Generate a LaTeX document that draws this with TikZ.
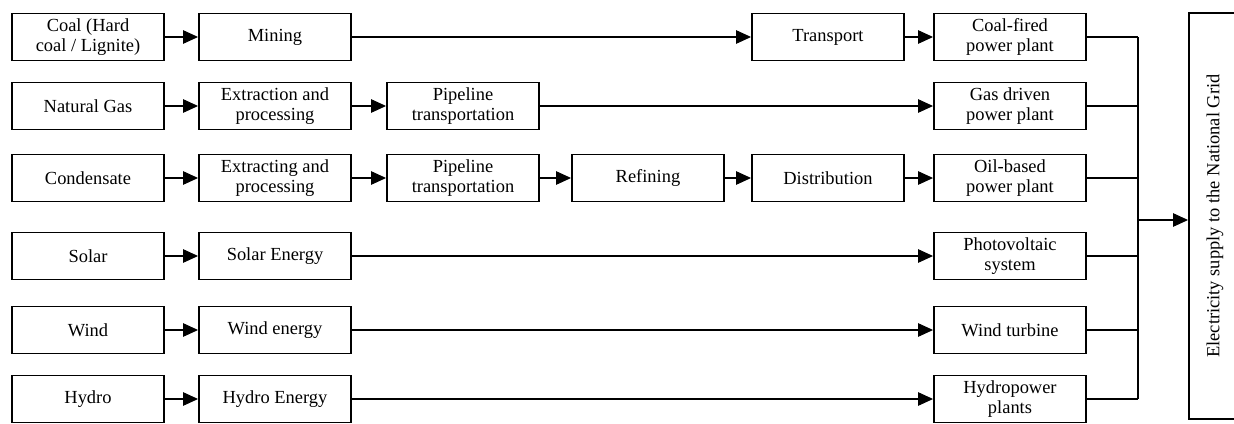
\documentclass[tikz,border=0pt]{standalone}
\usepackage{fontspec}
\setmainfont{Liberation Serif}
\usetikzlibrary{arrows.meta, positioning, calc}

\begin{document}
\begin{tikzpicture}[
  x=0.02cm, y=-0.02cm,
  box/.style={rectangle,draw,line width=1.1pt,minimum width=3.04cm,minimum height=0.94cm,
    inner sep=1pt,align=center,font=\fontsize{10.5}{11.4}\selectfont},
  flow/.style={-{Triangle[length=0.3cm,width=0.27cm]},line width=0.6pt},
  link/.style={line width=0.6pt}
]
  \useasboundingbox (0,0) rectangle (1234,423);

  % Nodes
  \node[box] (coal) at (88,37) {Coal (Hard\\coal / Lignite)};
  \node[box] (mining) at (275,37) {Mining};
  \node[box] (transport) at (828,37) {Transport};
  \node[box] (coalpp) at (1010,37) {Coal-fired\\power plant};

  \node[box] (gas) at (88,106) {Natural Gas};
  \node[box] (gasext) at (275,106) {Extraction and\\processing};
  \node[box] (gaspipe) at (463,106) {Pipeline\\transportation};
  \node[box] (gaspp) at (1010,106) {Gas driven\\power plant};

  \node[box] (cond) at (88,178) {Condensate};
  \node[box] (condext) at (275,178) {Extracting and\\processing};
  \node[box] (condpipe) at (463,178) {Pipeline\\transportation};
  \node[box] (refine) at (648,178) {Refining};
  \node[box] (dist) at (828,178) {Distribution};
  \node[box] (oilpp) at (1010,178) {Oil-based\\power plant};

  \node[box] (solar) at (88,256) {Solar};
  \node[box] (solaren) at (275,256) {Solar Energy};
  \node[box] (pv) at (1010,256) {Photovoltaic\\system};

  \node[box] (wind) at (88,330) {Wind};
  \node[box] (winden) at (275,330) {Wind energy};
  \node[box] (turbine) at (1010,330) {Wind turbine};

  \node[box] (hydro) at (88,399) {Hydro};
  \node[box] (hydroen) at (275,399) {Hydro Energy};
  \node[box] (hydropp) at (1010,399) {Hydropower\\plants};

  \node[box, rotate=90, minimum width=8.12cm, minimum height=1.04cm] (grid) at (1215,216)
    {Electricity supply to the National Grid};

  \coordinate (bus) at (1138,0);
  \coordinate (join) at (1138,220);

  % Paths
  \draw[flow] (coal) -- (mining);
  \draw[flow] (mining) -- (transport);
  \draw[flow] (transport) -- (coalpp);

  \draw[flow] (gas) -- (gasext);
  \draw[flow] (gasext) -- (gaspipe);
  \draw[flow] (gaspipe) -- (gaspp);

  \draw[flow] (cond) -- (condext);
  \draw[flow] (condext) -- (condpipe);
  \draw[flow] (condpipe) -- (refine);
  \draw[flow] (refine) -- (dist);
  \draw[flow] (dist) -- (oilpp);

  \draw[flow] (solar) -- (solaren);
  \draw[flow] (solaren) -- (pv);
  \draw[flow] (wind) -- (winden);
  \draw[flow] (winden) -- (turbine);
  \draw[flow] (hydro) -- (hydroen);
  \draw[flow] (hydroen) -- (hydropp);

  % Collecting bus to the grid
  \draw[link] (coalpp -| bus) -- (hydropp -| bus);
  \draw[link] (coalpp) -- (coalpp -| bus);
  \draw[link] (gaspp) -- (gaspp -| bus);
  \draw[link] (oilpp) -- (oilpp -| bus);
  \draw[link] (pv) -- (pv -| bus);
  \draw[link] (turbine) -- (turbine -| bus);
  \draw[link] (hydropp) -- (hydropp -| bus);
  \draw[flow] (join) -- (join -| grid.north);
\end{tikzpicture}
\end{document}
